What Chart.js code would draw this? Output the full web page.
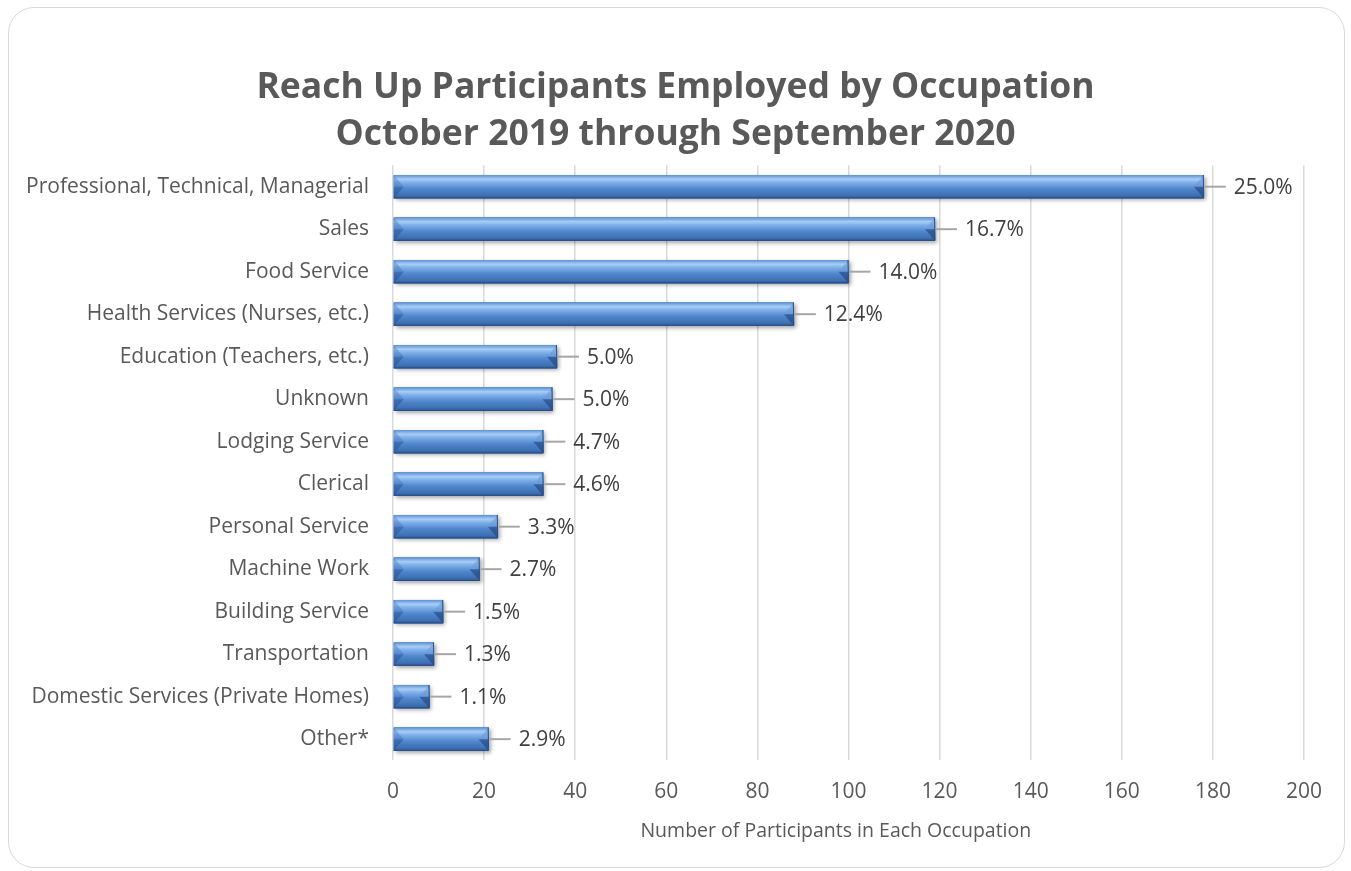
<!DOCTYPE html>
<html>
<head>
<meta charset="utf-8">
<title>Reach Up Participants Employed by Occupation</title>
<script src="https://cdn.jsdelivr.net/npm/chart.js@4"></script>
<style>
    body { margin: 0; background: #ffffff; }
    #frame {
        position: absolute; left: 8px; top: 7px; width: 1337px; height: 861px;
        border: 1.5px solid #d9d9d9; border-radius: 26px; box-sizing: border-box;
    }
    #occupationChart { position: absolute; left: 0; top: 0; }
</style>
</head>
<body>
<div id="frame"></div>
<canvas id="occupationChart" width="1351" height="871"></canvas>
<script>
const occupations = [
    "Professional, Technical, Managerial", "Sales", "Food Service",
    "Health Services (Nurses, etc.)", "Education (Teachers, etc.)", "Unknown",
    "Lodging Service", "Clerical", "Personal Service", "Machine Work",
    "Building Service", "Transportation", "Domestic Services (Private Homes)", "Other*"
];
const participants = [178, 119, 100, 88, 36, 35, 33, 33, 23, 19, 11, 9, 8, 21];
const shareLabels = ["25.0%", "16.7%", "14.0%", "12.4%", "5.0%", "5.0%", "4.7%",
    "4.6%", "3.3%", "2.7%", "1.5%", "1.3%", "1.1%", "2.9%"];
const xTicks = [0, 20, 40, 60, 80, 100, 120, 140, 160, 180, 200];

const fontName = "'Open Sans', sans-serif";
const textGray = "#595959";

// soft drop shadow under each bar
const barShadow = {
    id: "barShadow",
    beforeDatasetsDraw(chart) {
        let ctx = chart.ctx;
        ctx.save();
        chart.getDatasetMeta(0).data.forEach(bar => {
            let top = bar.y - bar.height / 2;
            ctx.shadowColor = "rgba(0, 0, 0, 0.35)";
            ctx.shadowBlur = 4;
            ctx.shadowOffsetX = 2;
            ctx.shadowOffsetY = 2;
            ctx.fillStyle = "#3d6fb0";
            ctx.fillRect(bar.base, top, bar.x - bar.base, bar.height);
        });
        ctx.restore();
    }
};

function triangle(ctx, a, b, c, color) {
    ctx.beginPath();
    ctx.moveTo(a[0], a[1]);
    ctx.lineTo(b[0], b[1]);
    ctx.lineTo(c[0], c[1]);
    ctx.closePath();
    ctx.fillStyle = color;
    ctx.fill();
}

// bevel look on top of the plain bars
const barBevel = {
    id: "barBevel",
    afterDatasetsDraw(chart) {
        let ctx = chart.ctx;
        ctx.save();
        chart.getDatasetMeta(0).data.forEach(bar => {
            let x0 = bar.base, x1 = bar.x;
            let y0 = bar.y - bar.height / 2, y1 = bar.y + bar.height / 2;
            let mid = bar.y, b = Math.min(10, (x1 - x0) / 2);

            let grad = ctx.createLinearGradient(0, y0, 0, y1);
            grad.addColorStop(0, "#5d92d3");
            grad.addColorStop(0.18, "#a8cdf6");
            grad.addColorStop(0.32, "#7fb0ea");
            grad.addColorStop(0.6, "#4f86cc");
            grad.addColorStop(0.88, "#3e6fb2");
            grad.addColorStop(1, "#2c5592");
            ctx.fillStyle = grad;
            ctx.fillRect(x0, y0, x1 - x0, y1 - y0);

            // left chamfer
            triangle(ctx, [x0, y0], [x0 + b, mid], [x0, mid], "rgba(60, 110, 180, 0.35)");
            triangle(ctx, [x0, mid], [x0 + b, mid], [x0, y1], "rgba(35, 75, 140, 0.45)");

            // right chamfer: light upper half, dark lower half
            triangle(ctx, [x1, y0], [x1 - b, mid], [x1, mid], "rgba(110, 155, 215, 0.6)");
            triangle(ctx, [x1, mid], [x1 - b, mid], [x1, y1], "rgba(25, 60, 115, 0.55)");

            ctx.strokeStyle = "#2a5088";
            ctx.lineWidth = 1;
            ctx.beginPath();
            ctx.moveTo(x0, y1 - 0.5);
            ctx.lineTo(x1, y1 - 0.5);
            ctx.lineTo(x1 - 0.5, y0);
            ctx.stroke();
        });
        ctx.restore();
    }
};

// percentage labels with short leader lines
const shareText = {
    id: "shareText",
    afterDatasetsDraw(chart) {
        let ctx = chart.ctx;
        ctx.save();
        ctx.font = "21px " + fontName;
        ctx.textAlign = "left";
        ctx.textBaseline = "middle";
        chart.getDatasetMeta(0).data.forEach((bar, i) => {
            ctx.strokeStyle = "#a6a6a6";
            ctx.lineWidth = 2;
            ctx.beginPath();
            ctx.moveTo(bar.x + 1, bar.y);
            ctx.lineTo(bar.x + 22, bar.y);
            ctx.stroke();
            ctx.fillStyle = "#404040";
            ctx.fillText(shareLabels[i], bar.x + 30, bar.y + 1);
        });
        ctx.restore();
    }
};

new Chart(document.getElementById("occupationChart"), {
    type: "bar",
    data: {
        labels: occupations,
        datasets: [{
            label: "Participants",
            data: participants,
            backgroundColor: "#4f86cc",
            borderWidth: 0,
            barPercentage: 0.55,
            categoryPercentage: 1
        }]
    },
    options: {
        indexAxis: "y",
        responsive: false,
        animation: false,
        devicePixelRatio: 1,
        layout: { padding: { left: 0, right: 0, top: 0, bottom: 28 } },
        plugins: {
            legend: { display: false },
            tooltip: { enabled: false },
            title: {
                display: true,
                text: ["Reach Up Participants Employed by Occupation", "October 2019 through September 2020"],
                color: textGray,
                font: { family: fontName, size: 35.5, weight: "bold", lineHeight: 1.33 },
                padding: { top: 64, bottom: 7 }
            }
        },
        scales: {
            x: {
                min: 0,
                max: 200,
                afterBuildTicks: scale => { scale.ticks = xTicks.map(v => ({ value: v })); },
                grid: { color: "#d9d9d9", lineWidth: 1.5, drawTicks: false },
                border: { display: false },
                ticks: { color: textGray, font: { family: fontName, size: 21 }, padding: 19 },
                title: {
                    display: true,
                    // trailing spaces nudge the centred title a bit left, like the original
                    text: "Number of Participants in Each Occupation     ",
                    color: textGray,
                    font: { family: fontName, size: 19.5 },
                    padding: { top: -4, bottom: 0 }
                }
            },
            y: {
                afterFit: scale => { scale.width = 393; },
                grid: { display: false, drawTicks: false },
                border: { display: false },
                ticks: { color: textGray, font: { family: fontName, size: 21 }, padding: 24 }
            },
            // empty right-hand axis, only there to keep the right margin
            yRight: {
                type: "category",
                position: "right",
                afterFit: scale => { scale.width = 47; },
                grid: { display: false, drawTicks: false },
                border: { display: false },
                ticks: { display: false }
            }
        }
    },
    plugins: [barShadow, barBevel, shareText]
});
</script>
</body>
</html>
